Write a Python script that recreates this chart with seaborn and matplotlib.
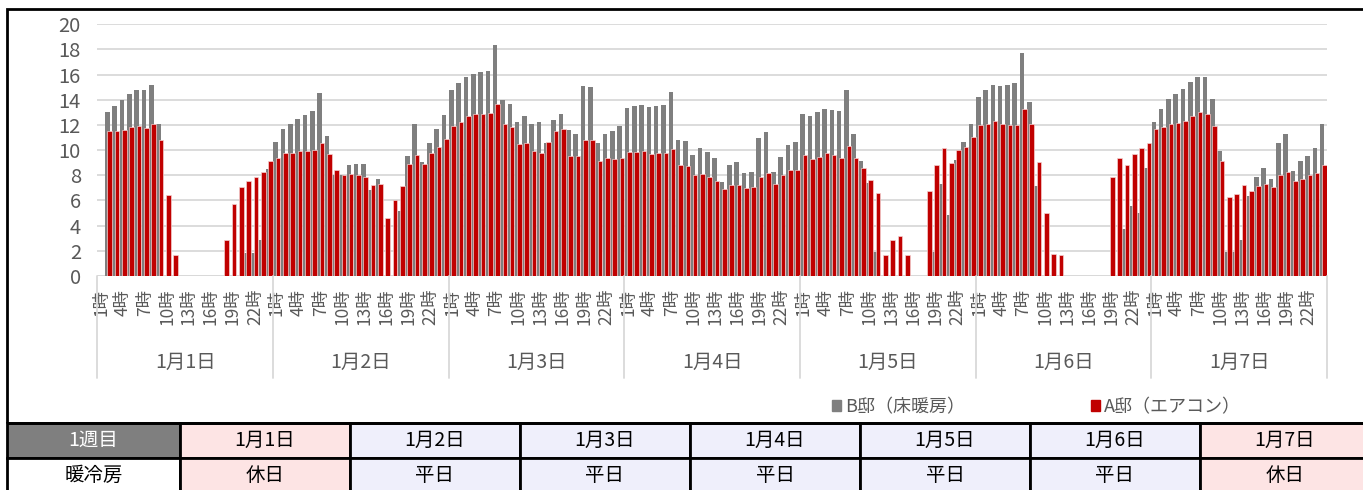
import numpy as np
import pandas as pd
import matplotlib.pyplot as plt
import matplotlib.patches as mpatches
import seaborn as sns

# hourly values per day (1時..24時), B邸 = floor heating, A邸 = air conditioner
days = ["1月1日", "1月2日", "1月3日", "1月4日", "1月5日", "1月6日", "1月7日"]
day_types = ["休日", "平日", "平日", "平日", "平日", "平日", "休日"]
hour_labels = [f"{h}時" for h in range(1, 25)]

b_day1 = [0, 13.0, 13.5, 14.0, 14.45, 14.75, 14.75, 15.15, 12.1, 0, 0, 0, 0, 0, 0, 0, 0, 0, 0, 0, 1.85, 1.85, 2.9, 8.5]
b_day2 = [10.65, 11.65, 12.1, 12.5, 12.8, 13.1, 14.55, 11.15, 8.0, 8.05, 8.8, 8.9, 8.9, 6.8, 7.7, 0, 0, 5.15, 9.5, 12.05, 9.05, 10.6, 11.7, 12.8]
b_day3 = [14.8, 15.3, 15.85, 16.05, 16.2, 16.3, 18.35, 13.95, 13.65, 12.2, 12.7, 12.05, 12.2, 10.55, 12.4, 12.85, 11.6, 11.3, 15.1, 15.05, 10.55, 11.25, 11.55, 11.95]
b_day4 = [13.35, 13.5, 13.6, 13.45, 13.5, 13.55, 14.65, 10.8, 10.7, 9.6, 10.15, 9.85, 9.35, 7.45, 8.8, 9.05, 8.2, 8.25, 11.0, 11.45, 8.3, 9.45, 10.4, 10.65]
b_day5 = [12.85, 12.75, 13.0, 13.3, 13.2, 13.1, 14.8, 11.25, 9.1, 7.4, 1.9, 0, 0, 0, 0, 0, 0, 0, 1.9, 7.3, 4.85, 9.25, 10.65, 12.1]
b_day6 = [14.25, 14.75, 15.15, 15.1, 15.2, 15.35, 17.7, 13.8, 7.15, 0, 0, 0, 0, 0, 0, 0, 0, 0, 0, 0, 3.7, 5.55, 5.0, 8.6]
b_day7 = [12.25, 13.25, 14.05, 14.45, 14.85, 15.45, 15.8, 15.85, 14.1, 9.95, 1.9, 1.9, 2.9, 6.35, 7.9, 8.55, 7.7, 10.55, 11.3, 8.35, 9.1, 9.5, 10.2, 12.05]

a_day1 = [0, 11.5, 11.5, 11.6, 11.85, 11.9, 11.75, 12.1, 10.8, 6.4, 1.7, 0, 0, 0, 0, 0, 0, 2.85, 5.75, 7.05, 7.55, 7.9, 8.3, 9.1]
a_day2 = [9.4, 9.8, 9.8, 9.9, 9.95, 10.05, 10.55, 9.7, 8.45, 8.05, 8.1, 8.0, 7.9, 7.2, 7.35, 4.6, 6.0, 7.15, 8.9, 9.65, 8.9, 9.75, 10.25, 10.9]
a_day3 = [11.9, 12.2, 12.75, 12.9, 12.9, 12.95, 13.7, 12.05, 11.8, 10.5, 10.55, 9.95, 9.8, 10.65, 11.5, 11.65, 9.5, 9.5, 10.8, 10.8, 9.1, 9.4, 9.3, 9.4]
a_day4 = [9.85, 9.85, 9.9, 9.7, 9.75, 9.8, 10.1, 8.8, 8.75, 8.0, 8.1, 7.9, 7.55, 6.95, 7.2, 7.25, 7.0, 7.05, 7.9, 8.2, 7.35, 8.0, 8.45, 8.45]
a_day5 = [9.6, 9.3, 9.45, 9.8, 9.6, 9.4, 10.3, 9.35, 8.55, 7.65, 6.6, 1.7, 2.9, 3.2, 1.7, 0, 0, 6.75, 8.8, 10.15, 9.0, 10.0, 10.25, 11.05]
a_day6 = [12.0, 12.1, 12.35, 12.05, 12.0, 12.0, 13.25, 12.1, 9.05, 5.0, 1.75, 1.7, 0, 0, 0, 0, 0, 0, 7.9, 9.35, 8.8, 9.7, 10.15, 10.6]
a_day7 = [11.65, 11.85, 12.1, 12.15, 12.3, 12.75, 13.0, 12.9, 11.9, 9.1, 6.3, 6.5, 7.2, 6.75, 7.15, 7.35, 7.1, 8.0, 8.3, 7.55, 7.7, 8.0, 8.2, 8.8]

b_values = b_day1 + b_day2 + b_day3 + b_day4 + b_day5 + b_day6 + b_day7
a_values = a_day1 + a_day2 + a_day3 + a_day4 + a_day5 + a_day6 + a_day7

sns.set_style("white")
plt.rcParams["font.family"] = ["Noto Sans CJK JP", "DejaVu Sans"]

GREY = "#7f7f7f"
RED = "#c00000"
LINE = "#d9d9d9"
TXT = "#595959"

W, H = 1363, 490
fig = plt.figure(figsize=(W / 100, H / 100), dpi=100)
ax = fig.add_axes([97.5 / W, (H - 276) / H, (1327 - 97.5) / W, (276 - 24.3) / H])

n = len(b_values)
df = pd.DataFrame({"slot": np.arange(n), "B": b_values, "A": a_values})

# overlapping clustered bars like Excel (grey behind, red in front)
sns.barplot(x=df["slot"] - 0.16, y=df["B"], native_scale=True, width=0.63,
            color=GREY, saturation=1, linewidth=0, ax=ax)
sns.barplot(x=df["slot"] + 0.16, y=df["A"], native_scale=True, width=0.63,
            color=RED, saturation=1, edgecolor="#f4d0d0", linewidth=0.5, ax=ax)

ax.set_xlim(-0.5, n - 0.5)
ax.set_ylim(0, 20)
ax.set_yticks(range(0, 21, 2))
ax.yaxis.grid(True, color=LINE, linewidth=1.3)
ax.set_axisbelow(True)
for s in ax.spines.values():
    s.set_visible(False)
ax.axhline(0, color=LINE, linewidth=1.3, zorder=0)
ax.set_xlabel("")
ax.set_ylabel("")

ticks = [d * 24 + h for d in range(len(days)) for h in range(0, 24, 3)]
ax.set_xticks(ticks)
ax.set_xticklabels([hour_labels[t % 24] for t in ticks], rotation=90, fontsize=12.5, color=TXT)
ax.tick_params(axis="x", length=0, pad=9)
ax.tick_params(axis="y", length=0, pad=12, labelsize=14.5, labelcolor=TXT)

# multi-level category axis: day labels and separators
tr = ax.get_xaxis_transform()
for d in range(len(days) + 1):
    ax.plot([d * 24 - 0.5] * 2, [0, -0.405], transform=tr, color=LINE,
            linewidth=1.3, clip_on=False)
for d, name in enumerate(days):
    ax.text(d * 24 + 11.5, -0.342, name, transform=tr, ha="center", va="center",
            fontsize=14, color=TXT)

legend_handles = [mpatches.Patch(color=GREY), mpatches.Patch(color=RED)]
fig.legend(legend_handles, ["B邸（床暖房）", "A邸（エアコン）"], loc="center left",
           bbox_to_anchor=(816 / W, 1 - 407 / H), ncol=2, frameon=False,
           handlelength=0.5, handleheight=0.5, handletextpad=0.2,
           columnspacing=7.0, fontsize=13, labelcolor=TXT)

# outer chart frame
fig.add_artist(mpatches.Rectangle((7 / W, (H - 423) / H), (1372 - 7) / W, (423 - 9) / H,
                                  transform=fig.transFigure, fill=False,
                                  edgecolor="black", linewidth=2))

# table below the chart
PINK = "#fde4e4"
LAV = "#efeffb"
tax = fig.add_axes([7 / W, -3 / H, 1363 / W, 70 / H])
tax.axis("off")
row1 = ["1週目"] + days
row2 = ["暖冷房"] + day_types
day_cols = [PINK if t == "休日" else LAV for t in day_types]
colors = [[GREY] + day_cols, ["white"] + day_cols]
col_w = [173] + [170] * len(days)
tbl = tax.table(cellText=[row1, row2], cellColours=colors, colWidths=col_w,
                cellLoc="center", bbox=[0, 0, 1, 1])
tbl.auto_set_font_size(False)
for (r, c), cell in tbl.get_celld().items():
    cell.set_edgecolor("black")
    cell.set_linewidth(2)
    cell.get_text().set_fontsize(14)
    cell.get_text().set_color("white" if (r, c) == (0, 0) else "black")

fig.savefig("out.png", dpi=100)
